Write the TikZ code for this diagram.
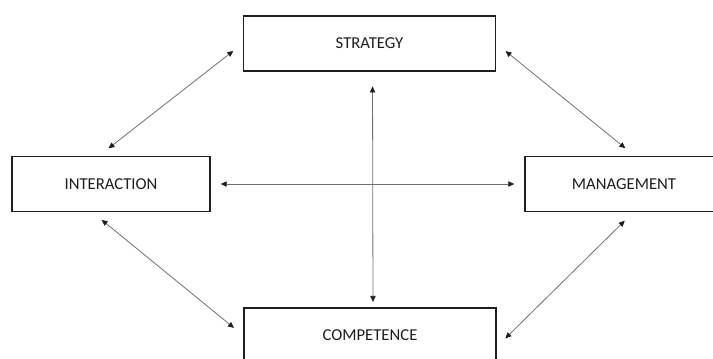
\documentclass[tikz,border=0pt]{standalone}
\usepackage{fontspec}
\setmainfont{Carlito}
\usetikzlibrary{arrows.meta}
\definecolor{ink}{HTML}{1E1E1E}
\definecolor{wire}{HTML}{707070}

\begin{document}
\begin{tikzpicture}[
  x=0.75pt, y=-0.75pt,
  box/.style={rectangle, draw=ink, line width=1.1pt, fill=white, text=ink,
    inner sep=0pt, minimum width=148.5pt, minimum height=41.25pt,
    font=\fontsize{12.5}{15}\selectfont},
  widebox/.style={box, minimum width=189pt},
  arr/.style={{Triangle[length=4.5pt, width=4pt, color=ink]}-{Triangle[length=4.5pt, width=4pt, color=ink]},
    draw=wire, line width=0.6pt, shorten <=9pt, shorten >=9pt}
]
\useasboundingbox (0,0) rectangle (713,358);
\clip (0,0) rectangle (713,358);

\node[widebox] (strategy) at (369.5,43.5) {STRATEGY};
\node[box] (interaction) at (111,184) {INTERACTION};
\node[box] (management) at (624,184) {MANAGEMENT};
\node[widebox] (competence) at (370,335.5) {COMPETENCE};

% cross in the middle
\draw[arr, shorten <=7.5pt, shorten >=7.5pt] (interaction.east) -- (management.west);
\draw[arr, shorten <=11pt, shorten >=4pt] ([xshift=2.25pt]strategy.south) -- ([xshift=2.25pt]competence.north);

% diagonals round the edge
\draw[arr] (strategy.west) -- ([xshift=-9pt]interaction.north);
\draw[arr] (strategy.east) -- ([xshift=8pt]management.north);
\draw[arr] ([xshift=-14pt]interaction.south) -- (competence.west);
\draw[arr] ([xshift=7pt]management.south) -- ([yshift=-8.5pt]competence.east);
\end{tikzpicture}
\end{document}
